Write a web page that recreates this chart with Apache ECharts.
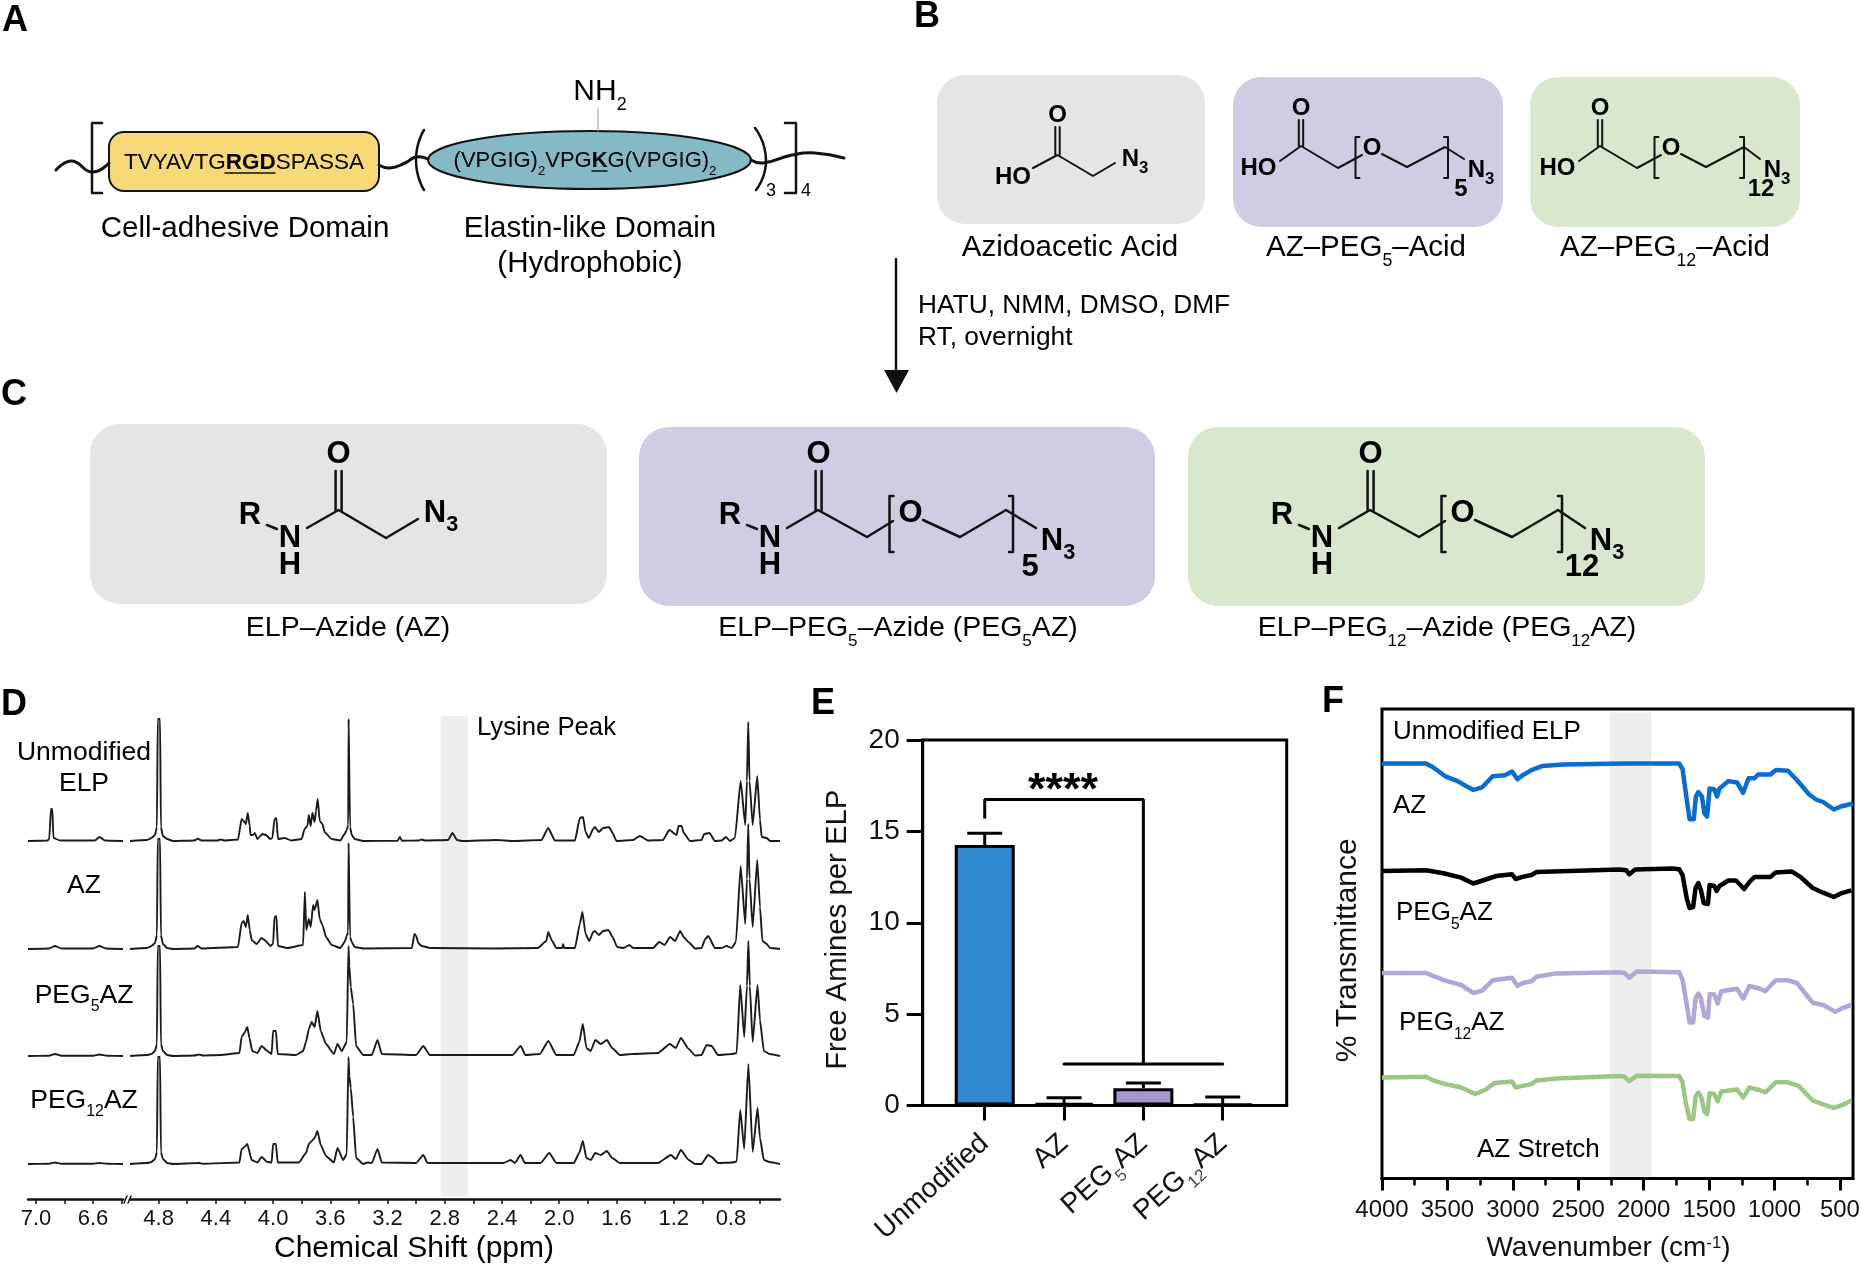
<!DOCTYPE html>
<html>
<head>
<meta charset="utf-8">
<title>ELP azide modification</title>
<script src="https://cdn.jsdelivr.net/npm/echarts@6/dist/echarts.min.js"></script>
<style>
  html, body { margin: 0; padding: 0; background: #fff; }
  #main { width: 1861px; height: 1265px; }
</style>
</head>
<body>
<div id="main"></div>
<script>
// ---- panel D: 1H NMR, [ppm, intensity above the trace baseline] ----
const nmrUnmodifiedLeft = [[7.056,0],[6.92,0.5],[6.907,2],[6.895,32],[6.885,32],[6.878,3],[6.83,0.5],[6.586,0.5],[6.556,4],[6.516,0.5],[6.39,0]];
const nmrAzLeft = [[7.056,0],[6.91,0.5],[6.867,3],[6.82,0.5],[6.6,0.5],[6.556,3],[6.51,0.5],[6.39,0]];
const nmrPeg5Left = [[7.056,0],[6.91,0.3],[6.867,2],[6.82,0.3],[6.6,0.3],[6.556,1.5],[6.5,0.3],[6.39,0]];
const nmrPeg12Left = [[7.056,0],[6.91,0.3],[6.867,1.5],[6.82,0.3],[6.6,0.3],[6.556,1],[6.5,0.3],[6.39,0]];

const nmrUnmodifiedRight = [[5.0,0],[4.88,1],[4.85,3],[4.825,6],[4.812,14],[4.806,122],[4.79,122],[4.784,14],[4.77,5],[4.74,2],[4.7,0],[4.55,0.5],[4.527,2.3],[4.5,0.5],[4.39,0.5],[4.366,1.5],[4.34,0.5],[4.245,1.5],[4.22,22],[4.206,20],[4.19,17],[4.177,28],[4.163,15],[4.158,6],[4.14,6],[4.128,8],[4.11,2],[4.075,7],[4.05,6],[4.02,2],[4.005,3],[3.99,22],[3.977,23],[3.966,2],[3.92,3],[3.872,0.5],[3.8,2],[3.78,12],[3.76,15],[3.75,26],[3.737,15],[3.725,28],[3.71,19],[3.7,30],[3.688,42],[3.674,20],[3.655,17],[3.64,9],[3.59,2],[3.53,0.5],[3.5,7],[3.485,11],[3.475,16],[3.472,122],[3.468,122],[3.462,14],[3.45,6],[3.43,2],[3.37,0],[3.13,0.3],[3.114,4],[3.1,0.3],[2.98,0.5],[2.963,1.5],[2.94,0.5],[2.777,1],[2.746,8],[2.714,1],[2.68,0],[2.44,1],[2.32,0],[2.124,1],[2.077,13],[2.03,0.5],[1.89,0.5],[1.856,23],[1.834,24],[1.816,9],[1.793,3],[1.763,12],[1.751,14],[1.723,9],[1.693,13],[1.651,14],[1.627,8],[1.6,0],[1.484,1],[1.436,5],[1.38,0.5],[1.275,1],[1.23,11],[1.18,6],[1.166,15],[1.145,15],[1.13,8],[1.086,0],[1.005,1],[0.987,7],[0.95,8],[0.912,0],[0.865,0.5],[0.835,4],[0.807,0],[0.772,3],[0.732,60],[0.7,16],[0.688,60],[0.679,119],[0.67,60],[0.648,16],[0.616,65],[0.597,21],[0.585,4],[0.55,3],[0.527,0],[0.457,0]];

const nmrAzRight = [[5.0,0],[4.88,1],[4.85,3],[4.825,6],[4.812,14],[4.806,110],[4.79,110],[4.784,14],[4.77,5],[4.74,1],[4.7,0],[4.55,0.5],[4.527,3],[4.5,0.5],[4.245,2],[4.22,26],[4.206,28],[4.19,22],[4.177,34],[4.163,19],[4.15,9],[4.115,5],[4.08,11],[4.05,8],[4.02,3],[4.0,5],[3.99,32],[3.977,33],[3.966,3],[3.9,1],[3.79,4],[3.778,57],[3.768,19],[3.75,30],[3.737,22],[3.72,44],[3.71,39],[3.69,49],[3.674,30],[3.655,24],[3.63,12],[3.59,4],[3.53,1],[3.5,7],[3.485,13],[3.476,17],[3.472,106],[3.468,106],[3.462,12],[3.45,7],[3.43,2],[3.37,0.5],[3.03,1],[3.012,15],[3.0,13],[2.985,6],[2.963,3],[2.9,1],[2.46,0.5],[2.15,1],[2.09,8],[2.077,17],[2.05,8],[2.02,1],[1.98,1],[1.973,5],[1.966,1],[1.89,1],[1.856,25],[1.838,37],[1.816,15],[1.79,8],[1.763,17],[1.751,18],[1.723,14],[1.693,18],[1.656,19],[1.627,12],[1.595,2],[1.55,1],[1.51,4],[1.484,1],[1.345,1],[1.3,7],[1.264,4],[1.225,12],[1.19,8],[1.155,18],[1.13,12],[1.097,7],[1.05,0.5],[1.005,1],[0.98,10],[0.958,13],[0.912,1],[0.865,1],[0.83,3],[0.795,1],[0.765,7],[0.732,83],[0.7,25],[0.688,70],[0.679,125],[0.67,70],[0.648,22],[0.616,89],[0.597,42],[0.58,8],[0.55,5],[0.527,1],[0.457,0]];

const nmrPeg5Right = [[5.0,0],[4.88,1],[4.85,2],[4.825,5],[4.812,12],[4.806,110],[4.79,110],[4.784,12],[4.77,5],[4.74,1],[4.7,0],[4.55,0.5],[4.52,1.5],[4.49,0.5],[4.37,1],[4.235,3],[4.22,19],[4.2,23],[4.18,29],[4.165,18],[4.146,5],[4.11,3],[4.08,10],[4.04,5],[4.01,2],[4.0,25],[3.98,25],[3.968,2],[3.84,1],[3.79,5],[3.77,14],[3.75,27],[3.73,34],[3.71,29],[3.69,45],[3.667,25],[3.63,12],[3.575,2],[3.55,12],[3.52,5],[3.485,14],[3.473,110],[3.467,90],[3.457,69],[3.44,52],[3.42,10],[3.37,1],[3.31,1],[3.27,16],[3.24,2],[3.0,1],[2.95,10],[2.905,1],[2.326,1],[2.27,10],[2.236,1],[2.136,2],[2.076,15],[2.02,1],[1.898,1],[1.86,14],[1.835,32],[1.81,8],[1.78,5],[1.748,16],[1.71,12],[1.667,16],[1.63,8],[1.576,1],[1.49,2],[1.31,3],[1.227,12],[1.185,8],[1.15,18],[1.095,7],[1.05,0.5],[1.006,1],[0.97,11],[0.935,10],[0.89,1],[0.79,2],[0.76,3],[0.735,71],[0.707,19],[0.688,70],[0.678,115],[0.668,70],[0.648,14],[0.614,71],[0.597,36],[0.57,5],[0.53,2],[0.457,0]];

const nmrPeg12Right = [[5.0,0],[4.88,1],[4.85,2],[4.825,5],[4.812,12],[4.806,107],[4.79,107],[4.784,12],[4.77,5],[4.74,1],[4.7,0],[4.52,1],[4.49,0.3],[4.235,1.5],[4.22,15],[4.2,17],[4.18,20],[4.15,4],[4.11,1.5],[4.08,7],[4.04,2],[4.01,1.5],[4.0,20],[3.98,20],[3.968,1.5],[3.82,1.5],[3.77,11],[3.75,20],[3.73,23],[3.71,26],[3.69,33],[3.667,19],[3.63,8],[3.575,1.5],[3.55,16],[3.51,4],[3.485,10],[3.473,107],[3.467,88],[3.457,76],[3.44,47],[3.42,6],[3.37,0],[3.34,1.5],[3.31,1],[3.27,15],[3.24,1.5],[3.0,1],[2.95,9],[2.92,1],[2.39,1],[2.34,4],[2.31,1],[2.27,9],[2.24,1],[2.13,1],[2.07,11],[2.02,1],[1.898,1],[1.86,11],[1.835,23],[1.81,6],[1.78,4],[1.748,11],[1.71,9],[1.667,13],[1.63,6],[1.576,1],[1.31,1],[1.22,9],[1.185,5],[1.15,14],[1.095,4],[1.05,0],[1.006,0],[0.96,9],[0.935,7],[0.89,1],[0.79,1.5],[0.76,2.5],[0.735,54],[0.707,15],[0.678,100],[0.648,12],[0.614,56],[0.597,26],[0.57,4],[0.53,2],[0.457,0]];

const nmrBaselines = [358, 250, 143, 35];
const nmrTickValues = [4.8,4.6,4.4,4.2,4.0,3.8,3.6,3.4,3.2,3.0,2.8,2.6,2.4,2.2,2.0,1.8,1.6,1.4,1.2,1.0,0.8,0.6];
const nmrLabelValues = [4.8,4.4,4.0,3.6,3.2,2.8,2.4,2.0,1.6,1.2,0.8];
const nmrLeftTicks = [7.0,6.8,6.6,6.4];
const nmrLeftLabels = [7.0,6.6];
const lysineBand = [2.828, 2.639];

// ---- panel E ----
const barCategories = ['Unmodified', 'AZ', 'PEG_5_AZ', 'PEG_12_AZ'];
const barPositions = [0, 1, 2, 3];
const barMeans = [14.25, 0.13, 0.95, 0.08];
const barErrors = [0.65, 0.3, 0.28, 0.38];
const barColors = ['#3388d2', '#3388d2', '#a596cc', '#a596cc'];
const bracketUpper = [[0,15.7],[0,16.75],[2,16.75],[2,2.27]];
const bracketLower = [[1,2.27],[3,2.27]];

// ---- panel F: FTIR, [wavenumber, drop below the trace baseline] ----
const ftirUnmodified = [[4000,0],[3664,0],[3610,3.7],[3516,12.8],[3422,17.6],[3355,22.7],[3301,26.4],[3234,23.8],[3154,12.8],[3060,11.7],[3006,8],[2965,15.8],[2925,11.7],[2858,6.6],[2777,2.6],[2616,1.1],[2133,0],[1729,0],[1703,5.5],[1670,36.7],[1649,55.7],[1617,55.7],[1601,33],[1582,28.6],[1555,33],[1536,49.5],[1515,53],[1496,25],[1461,25.7],[1439,33],[1420,25],[1353,17.6],[1286,19],[1240,29.3],[1198,14.7],[1152,14.7],[1125,11],[1031,11],[991,6.6],[897,7.3],[829,16.5],[735,31],[682,36],[628,38.5],[547,46],[493,43],[400,40]];
const ftirAz = [[4000,0],[3664,-0.7],[3530,2.2],[3395,6.6],[3301,12.5],[3207,8.5],[3127,5],[3006,3.3],[2979,8],[2925,5.9],[2858,4],[2818,1],[2186,-1.5],[2133,-0.7],[2111,3.3],[2065,-1.5],[1783,-2.6],[1729,-1.8],[1703,4],[1670,27.9],[1649,37],[1622,36],[1603,16.9],[1582,12],[1563,18.7],[1541,32],[1509,33],[1496,14],[1461,15],[1442,20],[1420,15],[1353,9.5],[1294,9.5],[1232,18],[1192,11],[1152,5.9],[1031,5.9],[991,1.5],[870,0.4],[802,5.9],[708,17],[628,21.7],[547,26],[493,22.4],[413,19.4]];
const ftirPeg5 = [[4000,0],[3664,0],[3610,2.9],[3516,7.7],[3395,12],[3301,20],[3234,17.6],[3154,7.3],[3006,4.8],[2965,13],[2925,10],[2858,8.3],[2818,3.7],[2670,0.4],[2186,-0.7],[2146,0],[2111,4.8],[2052,-1.5],[1729,-0.7],[1703,6.6],[1670,32],[1649,49.5],[1622,49.5],[1603,25],[1582,20.5],[1563,25],[1536,43],[1509,44.7],[1496,21.3],[1461,21.3],[1434,30.4],[1407,18.3],[1286,15.8],[1240,25.7],[1192,13],[1111,15.8],[1071,18.3],[991,7.3],[897,7.3],[829,10],[708,29.7],[628,32],[534,38.9],[480,35],[413,32]];
const ftirPeg12 = [[4000,0],[3664,-0.7],[3610,2.9],[3516,6.6],[3395,10],[3288,16.5],[3207,12],[3140,5.5],[3006,4],[2979,10],[2925,8.4],[2858,6.6],[2818,2.9],[2670,1],[2186,-1.5],[2146,-0.7],[2111,3.7],[2052,-1.8],[1729,-1.5],[1703,4.8],[1676,26.8],[1649,41.4],[1622,41.4],[1603,19.4],[1582,15],[1560,19.4],[1536,34],[1515,36.7],[1496,15.8],[1461,16.5],[1434,23.8],[1407,13.9],[1286,12],[1240,20],[1192,10],[1111,12.8],[1071,15],[991,4.8],[897,4.8],[816,8.4],[708,23],[628,26.8],[547,30.4],[480,27.5],[413,23]];
const ftirBaselines = [415, 307.5, 205.5, 101];
const ftirColors = ['#0a6dcc', '#000000', '#b2a5d8', '#9dc586'];
const ftirLabelValues = [4000,3500,3000,2500,2000,1500,1000,500];
const ftirMinorValues = [3750,3250,2750,2250,1750,1250,750];
const azBand = [2259, 1939];

const FONT = '"Liberation Sans", Arial, sans-serif';

// "PEG_5_AZ" -> rich text with a subscript
function rt(s) {
    return s.split('_').map((p, i) => p === '' ? '' : (i % 2 ? '{s|' + p + '}' : '{m|' + p + '}')).join('');
}
function richStyles(size, weight, color) {
    const c = color || '#111';
    const w = weight || 'normal';
    const subSize = size * (weight ? 0.7 : 0.6);
    return {
        m: { fontSize: size, fontWeight: w, fontFamily: FONT, color: c, lineHeight: size * 1.5 },
        b: { fontSize: size, fontWeight: 'bold', fontFamily: FONT, color: c, lineHeight: size * 1.5 },
        s: { fontSize: subSize, fontWeight: w, fontFamily: FONT, color: weight ? c : '#444', lineHeight: subSize, verticalAlign: 'bottom' },
        u: { fontSize: size * 0.6, fontWeight: w, fontFamily: FONT, color: c, lineHeight: size * 0.6, verticalAlign: 'top' }
    };
}

// schematic helpers for panels A, B, C
const g = [];
function txt(x, y, s, size, o) {
    o = o || {};
    g.push({
        type: 'text', x, y: y + (o.weight ? 2 : 3.2), z: 20, silent: true,
        style: {
            text: o.raw ? s : rt(s),
            rich: richStyles(size, o.weight, o.color),
            align: o.align || 'center', verticalAlign: 'middle'
        }
    });
}
function poly(points, width, o) {
    o = o || {};
    g.push({
        type: 'polyline', z: 15, silent: true,
        shape: { points, smooth: o.smooth || 0 },
        style: { stroke: o.color || '#111', lineWidth: width, fill: null, lineCap: 'round', lineJoin: 'round' }
    });
}
function box(x0, y0, x1, y1, fill, r, o) {
    o = o || {};
    g.push({
        type: 'rect', z: o.z || 5, silent: true,
        shape: { x: x0, y: y0, width: x1 - x0, height: y1 - y0, r },
        style: { fill, stroke: o.stroke || null, lineWidth: o.lw || 0 }
    });
}
function doubleBond(x, y0, y1, gap, w) {
    poly([[x - gap, y0], [x - gap, y1]], w);
    poly([[x + gap, y0], [x + gap, y1]], w);
}
function bracket(x, y0, y1, dir, w) {
    poly([[x + dir * 4, y0], [x, y0], [x, y1], [x + dir * 4, y1]], w);
}

// panel letters
txt(15, 19, 'A', 36, { weight: 'bold' });
txt(927, 15, 'B', 36, { weight: 'bold' });
txt(14, 393, 'C', 36, { weight: 'bold' });
txt(14, 703, 'D', 36, { weight: 'bold' });
txt(823, 702, 'E', 36, { weight: 'bold' });
txt(1333, 700, 'F', 36, { weight: 'bold' });

// panel A
poly([[56,170],[72,161],[92,172],[109,163]], 3, { smooth: 0.5 });
poly([[379,165],[390,168],[405,163],[416,157],[428,159]], 3, { smooth: 0.5 });
poly([[751,160],[763,163],[792,155],[815,153],[844,158]], 3, { smooth: 0.5 });
poly([[102,123],[92,123],[92,193],[102,193]], 2.5);
poly([[785,123],[796,123],[796,193],[785,193]], 2.5);
poly([[424,130],[416,160],[424,190]], 2.5, { smooth: 0.6 });
poly([[755,128],[766,160],[756,190]], 2.5, { smooth: 0.6 });
box(109, 132, 379, 191, '#f7d977', 15, { stroke: '#111', lw: 2, z: 14 });
g.push({ type: 'ellipse', z: 14, silent: true, shape: { cx: 589.5, cy: 160, rx: 161.5, ry: 29 }, style: { fill: '#85b9c5', stroke: '#111', lineWidth: 2 } });
poly([[598, 108], [598, 131]], 1, { color: '#999' });
txt(244, 159.7, '{m|TVYAVTG}{b|RGD}{m|SPASSA}', 22.5, { raw: true });
poly([[225, 173], [275, 173]], 1.5);
txt(585, 157.7, '{m|(VPGIG)}{s|2}{m|VPG}{b|K}{m|G(VPGIG)}{s|2}', 22, { raw: true });
poly([[592, 171], [607, 171]], 1.5);
txt(600, 88.7, 'NH_2_', 30);
txt(771, 187.7, '3', 18);
txt(806, 187.7, '4', 18);
txt(245, 226, 'Cell-adhesive Domain', 29.5);
txt(590, 226, 'Elastin-like Domain', 29.5);
txt(590, 261, '(Hydrophobic)', 29.5);

// panel B
box(937, 75, 1205, 224, '#e5e5e5', 28);
box(1233, 77, 1503, 227, '#d1cce4', 28);
box(1530, 77, 1800, 227, '#d9e7ce', 28);
txt(1070, 245, 'Azidoacetic Acid', 29.5);
txt(1366, 245, 'AZ–PEG_5_–Acid', 29.5);
txt(1665, 245, 'AZ–PEG_12_–Acid', 29.5);
txt(1057.5, 113, 'O', 24, { weight: 'bold' });
doubleBond(1057.5, 127, 155, 2.2, 2);
poly([[1033, 168], [1057.5, 155], [1093, 176], [1115, 163]], 2);
txt(1013, 175, 'HO', 24, { weight: 'bold' });
txt(1135, 157, 'N_3_', 24, { weight: 'bold' });
function acidPeg(dx, n, nx, nNudge) {
    txt(1301 + dx, 106, 'O', 24, { weight: 'bold' });
    doubleBond(1301 + dx, 120, 146, 2.2, 2);
    txt(1258.5 + dx, 166, 'HO', 24, { weight: 'bold' });
    poly([[1280 + dx, 161], [1301 + dx, 146], [1338 + dx, 168], [1362 + dx, 155]], 2);
    txt(1372 + dx, 146, 'O', 24, { weight: 'bold' });
    poly([[1382 + dx, 154], [1407 + dx, 167], [1445 + dx, 147], [1464 + dx + nNudge, 159]], 2);
    bracket(1355.5 + dx, 137, 178, 1, 2);
    bracket(1448 + dx + nNudge, 137, 178, -1, 2);
    txt(1481 + dx + nNudge, 168, 'N_3_', 24, { weight: 'bold' });
    txt(nx, 187, n, 24, { weight: 'bold' });
}
acidPeg(0, '5', 1461, 0);
acidPeg(299, '12', 1761, -3);
txt(918, 303, 'HATU, NMM, DMSO, DMF', 26.3, { align: 'left' });
txt(918, 335, 'RT, overnight', 26.3, { align: 'left' });
poly([[896, 259], [896, 375]], 2.5);
g.push({ type: 'polygon', z: 15, silent: true, shape: { points: [[884, 370], [909, 370], [896.5, 393]] }, style: { fill: '#111' } });

// panel C
box(90, 424, 607, 604, '#e5e5e5', 30);
box(639, 427, 1155, 606, '#d1cce4', 30);
box(1188, 427, 1705, 606, '#d9e7ce', 30);
txt(348, 625, 'ELP–Azide (AZ)', 28.5);
txt(898, 625, 'ELP–PEG_5_–Azide (PEG_5_AZ)', 28.5);
txt(1447, 625, 'ELP–PEG_12_–Azide (PEG_12_AZ)', 28.5);
function amideHead(dx) {
    txt(250 + dx, 513, 'R', 31, { weight: 'bold' });
    poly([[267 + dx, 525], [277 + dx, 529]], 2.5);
    txt(290 + dx, 536, 'N', 31, { weight: 'bold' });
    txt(290 + dx, 563, 'H', 31, { weight: 'bold' });
    txt(338.6 + dx, 452, 'O', 31, { weight: 'bold' });
    doubleBond(338.6 + dx, 471, 510, 3, 2.5);
}
amideHead(0);
poly([[307, 528], [338.6, 510], [386, 538], [418, 519]], 2.5);
txt(441, 511, 'N_3_', 31, { weight: 'bold' });
function amidePeg(dx, n, nx, ny, nudge) {
    amideHead(480 + dx);
    poly([[787 + dx, 528], [818 + dx, 510], [867 + dx, 537], [893 + dx, 521]], 2.5);
    txt(910.5 + dx, 511, 'O', 31, { weight: 'bold' });
    poly([[923 + dx, 520], [960 + dx, 537], [1006 + dx, 510], [1036 + dx + nudge, 528]], 2.5);
    bracket(889.5 + dx, 496, 552, 1, 2.5);
    bracket(1013 + dx + nudge, 496, 552, -1, 2.5);
    txt(1058 + dx + nudge, 539, 'N_3_', 31, { weight: 'bold' });
    txt(nx, ny, n, 31, { weight: 'bold' });
}
amidePeg(0, '5', 1030, 565, 0);
amidePeg(552, '12', 1582, 565, -3);

// panel D texts
txt(84, 749, 'Unmodified', 26.5);
txt(84, 780, 'ELP', 26.5);
txt(84, 882, 'AZ', 26.5);
txt(84, 992, 'PEG_5_AZ', 26.5);
txt(84, 1097, 'PEG_12_AZ', 26.5);
txt(477, 725, 'Lysine Peak', 25.7, { align: 'left' });
txt(414, 1246, 'Chemical Shift (ppm)', 30);
poly([[124, 1203], [127, 1196]], 1.5);
poly([[128, 1203], [131, 1196]], 1.5);

// panel E stars, panel F labels
txt(1063, 790, '****', 45, { weight: 'bold', color: '#000' });
txt(1393, 729, 'Unmodified ELP', 26, { align: 'left' });
txt(1393, 803, 'AZ', 26, { align: 'left' });
txt(1396, 910, 'PEG_5_AZ', 26, { align: 'left' });
txt(1399, 1020, 'PEG_12_AZ', 26, { align: 'left' });
txt(1477, 1147, 'AZ Stretch', 26, { align: 'left' });

function shifted(data, base, sign) {
    return data.map(d => [d[0], base + sign * d[1]]);
}
function nmrLine(data, base, axis, extra) {
    return Object.assign({
        type: 'line', xAxisIndex: axis, yAxisIndex: axis, z: 3,
        data: shifted(data, base, 1), showSymbol: false, silent: true, clip: false,
        smooth: 0.15, smoothMonotone: 'x',
        lineStyle: { color: '#1a1a1a', width: 1.9, join: 'round' }
    }, extra || {});
}
function ftirLine(data, i, extra) {
    return Object.assign({
        type: 'line', xAxisIndex: 3, yAxisIndex: 3, z: 3,
        data: shifted(data, ftirBaselines[i], -1), showSymbol: false, silent: true,
        lineStyle: { color: ftirColors[i], width: 4.5, join: 'round' }
    }, extra || {});
}
const tickText = { fontFamily: FONT, color: '#111' };

const option = {
    animation: false,
    backgroundColor: '#fff',
    graphic: { elements: g },
    grid: [
        { left: 28, width: 95, top: 712, height: 487, outerBoundsMode: 'none' },
        { left: 130, width: 650, top: 712, height: 487, outerBoundsMode: 'none' },
        { left: 922.7, width: 364, top: 740, height: 365.5, show: true, borderColor: '#000', borderWidth: 3, outerBoundsMode: 'none' },
        { left: 1382, width: 471, top: 709, height: 469.5, show: true, borderColor: '#000', borderWidth: 3, outerBoundsMode: 'none' }
    ],
    xAxis: [
        {
            gridIndex: 0, type: 'value', inverse: true, min: 6.39, max: 7.056, splitLine: { show: false },
            axisLine: { onZero: false, lineStyle: { color: '#111', width: 2.5 } },
            axisTick: { customValues: nmrLeftTicks, length: 5, lineStyle: { color: '#111', width: 1.5 } },
            axisLabel: Object.assign({}, tickText, { customValues: nmrLeftLabels, fontSize: 22, margin: 9, formatter: v => v.toFixed(1) })
        },
        {
            gridIndex: 1, type: 'value', inverse: true, min: 0.457, max: 5.0, splitLine: { show: false },
            axisLine: { onZero: false, lineStyle: { color: '#111', width: 2.5 } },
            axisTick: { customValues: nmrTickValues, length: 5, lineStyle: { color: '#111', width: 1.5 } },
            axisLabel: Object.assign({}, tickText, { customValues: nmrLabelValues, fontSize: 22, margin: 9, formatter: v => v.toFixed(1) })
        },
        {
            gridIndex: 2, type: 'value', min: -0.782, max: 3.807, splitLine: { show: false },
            axisLine: { onZero: false, lineStyle: { color: '#000', width: 3 } },
            axisTick: { customValues: barPositions, length: 15, lineStyle: { color: '#000', width: 3 } },
            axisLabel: {
                customValues: barPositions, rotate: 42, margin: 34, fontSize: 28, fontFamily: FONT,
                formatter: v => rt(barCategories[v]), rich: richStyles(28)
            }
        },
        {
            gridIndex: 3, type: 'value', inverse: true, min: 400, max: 4000, splitLine: { show: false },
            axisLine: { onZero: false, lineStyle: { color: '#000', width: 3 } },
            axisTick: { customValues: ftirLabelValues, length: 12, lineStyle: { color: '#000', width: 3 } },
            axisLabel: Object.assign({}, tickText, { customValues: ftirLabelValues, fontSize: 24, margin: 20, formatter: v => String(v), showMinLabel: true, showMaxLabel: true, hideOverlap: false }),
            name: 'Wavenumber (cm{u|-1})', nameLocation: 'middle', nameGap: 56,
            nameTextStyle: { fontSize: 28, fontFamily: FONT, color: '#111', rich: richStyles(28), padding: [0, 18, 0, 0] }
        },
        {
            gridIndex: 3, type: 'value', inverse: true, min: 400, max: 4000, position: 'bottom', splitLine: { show: false },
            axisLine: { show: false },
            axisTick: { customValues: ftirMinorValues, length: 7, lineStyle: { color: '#000', width: 2.5 } },
            axisLabel: { show: false }
        }
    ],
    yAxis: [
        { gridIndex: 0, type: 'value', min: 0, max: 487, show: false },
        { gridIndex: 1, type: 'value', min: 0, max: 487, show: false },
        {
            gridIndex: 2, type: 'value', min: 0, max: 20, interval: 5, splitLine: { show: false },
            axisLine: { show: true, onZero: false, lineStyle: { color: '#000', width: 3 } },
            axisTick: { show: true, length: 16, lineStyle: { color: '#000', width: 3 } },
            axisLabel: Object.assign({}, tickText, { fontSize: 28, margin: 23 }),
            name: 'Free Amines per ELP', nameLocation: 'middle', nameGap: 70,
            nameTextStyle: { fontSize: 29.3, fontFamily: FONT, color: '#111', padding: [0, 14, 0, 0] }
        },
        {
            gridIndex: 3, type: 'value', min: 0, max: 469.5, splitLine: { show: false },
            axisLine: { show: false, onZero: false }, axisTick: { show: false }, axisLabel: { show: false },
            name: '% Transmittance', nameLocation: 'middle', nameGap: 19,
            nameTextStyle: { fontSize: 30, fontFamily: FONT, color: '#111', padding: [0, 13, 0, 0] }
        }
    ],
    series: [
        nmrLine(nmrUnmodifiedLeft, nmrBaselines[0], 0),
        nmrLine(nmrAzLeft, nmrBaselines[1], 0),
        nmrLine(nmrPeg5Left, nmrBaselines[2], 0),
        nmrLine(nmrPeg12Left, nmrBaselines[3], 0),
        nmrLine(nmrUnmodifiedRight, nmrBaselines[0], 1, {
            markArea: {
                silent: true, itemStyle: { color: '#eeeeee' },
                data: [[{ xAxis: lysineBand[0], yAxis: 3 }, { xAxis: lysineBand[1], yAxis: 483 }]]
            }
        }),
        nmrLine(nmrAzRight, nmrBaselines[1], 1),
        nmrLine(nmrPeg5Right, nmrBaselines[2], 1),
        nmrLine(nmrPeg12Right, nmrBaselines[3], 1),
        {
            type: 'bar', xAxisIndex: 2, yAxisIndex: 2, barWidth: 60, silent: true, z: 3,
            data: barMeans.map((v, i) => ({
                value: [barPositions[i], v],
                itemStyle: { color: barColors[i], borderColor: '#000', borderWidth: 3 }
            }))
        },
        {
            type: 'custom', xAxisIndex: 2, yAxisIndex: 2, silent: true, z: 4,
            data: barMeans.map((v, i) => [barPositions[i], v, v + barErrors[i]]),
            encode: { x: 0, y: [1, 2] },
            renderItem: function (params, api) {
                const low = api.coord([api.value(0), api.value(1)]);
                const high = api.coord([api.value(0), api.value(2)]);
                const st = { stroke: '#000', lineWidth: 3, fill: null };
                return {
                    type: 'group', children: [
                        { type: 'line', shape: { x1: low[0], y1: low[1], x2: high[0], y2: high[1] }, style: st },
                        { type: 'line', shape: { x1: high[0] - 17.5, y1: high[1], x2: high[0] + 17.5, y2: high[1] }, style: st }
                    ]
                };
            }
        },
        {
            type: 'line', xAxisIndex: 2, yAxisIndex: 2, data: bracketUpper, showSymbol: false, silent: true, z: 4,
            lineStyle: { color: '#000', width: 3 }
        },
        {
            type: 'line', xAxisIndex: 2, yAxisIndex: 2, data: bracketLower, showSymbol: false, silent: true, z: 4,
            lineStyle: { color: '#000', width: 3, cap: 'round' }
        },
        ftirLine(ftirUnmodified, 0, {
            markArea: {
                silent: true, itemStyle: { color: '#eeeeee' },
                data: [[{ xAxis: azBand[0], yAxis: 2 }, { xAxis: azBand[1], yAxis: 466 }]]
            }
        }),
        ftirLine(ftirAz, 1),
        ftirLine(ftirPeg5, 2),
        ftirLine(ftirPeg12, 3)
    ]
};

const chart = echarts.init(document.getElementById('main'), null, { renderer: 'canvas' });
chart.setOption(option);
</script>
</body>
</html>
